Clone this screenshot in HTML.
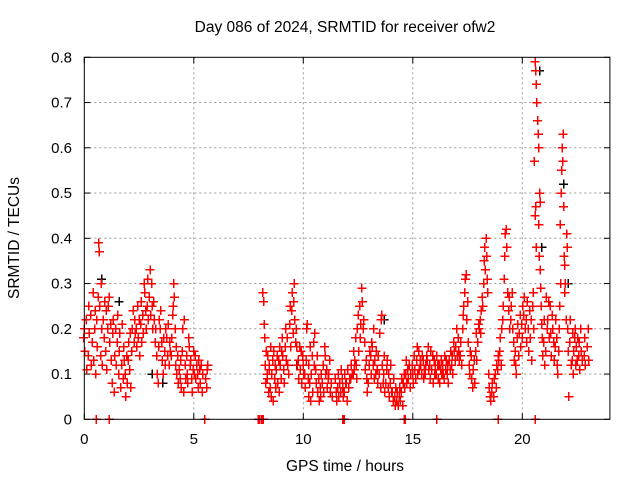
<!DOCTYPE html>
<html><head><meta charset="utf-8"><style>
body{margin:0;background:#fff;}
svg{display:block;font-family:"Liberation Sans",sans-serif;}
</style></head><body>
<svg id="chart" width="640" height="480" xmlns="http://www.w3.org/2000/svg">
<rect width="640" height="480" fill="#fff"/>
<text x="345" y="32" font-size="15.5" text-anchor="middle" fill="#000">Day 086 of 2024, SRMTID for receiver ofw2</text>
<text x="345" y="471" font-size="15.5" text-anchor="middle" fill="#000">GPS time / hours</text>
<text x="19" y="238" font-size="15.5" text-anchor="middle" fill="#000" transform="rotate(-90 19 238)">SRMTID / TECUs</text>
<g id="grid"></g><g id="ticks"></g><g id="marks" shape-rendering="crispEdges"></g>
<rect x="84.3" y="57.3" width="525.6" height="362" fill="none" stroke="#000" stroke-width="1"/>
</svg>
<script>
const xTicks=[0,5,10,15,20];
const yTicks=[0,0.1,0.2,0.3,0.4,0.5,0.6,0.7,0.8];
const yTickLabels=["0","0.1","0.2","0.3","0.4","0.5","0.6","0.7","0.8"];
const times=[0.0,0.1,0.2,0.3,0.4,0.5,0.6,0.7,0.8,0.9,1.0,1.1,1.2,1.3,1.4,1.5,1.6,1.7,1.8,1.9,2.0,2.1,2.2,2.3,2.4,2.5,2.6,2.7,2.8,2.9,3.0,3.1,3.2,3.3,3.4,3.5,3.6,3.7,3.8,3.9,4.0,4.1,4.2,4.3,4.4,4.5,4.6,4.7,4.8,4.9,5.0,5.1,5.2,5.3,5.4,5.6,
8.2,8.3,8.4,8.5,8.6,8.7,8.8,8.9,9.0,9.1,9.2,9.3,9.4,9.5,9.6,9.7,9.8,9.9,10.0,10.1,10.2,10.3,10.4,10.5,10.6,10.7,10.8,10.9,11.0,11.1,11.2,11.3,11.5,11.6,11.7,11.8,11.9,12.0,12.1,12.2,12.3,12.4,12.5,12.6,12.7,12.8,12.9,13.0,13.1,13.2,13.3,13.4,13.5,13.6,13.7,13.8,13.9,14.0,14.1,14.2,14.3,14.4,14.5,14.6,14.7,14.8,14.9,15.0,15.1,15.2,15.3,15.4,15.5,15.6,15.7,15.8,15.9,16.0,16.1,16.2,16.3,16.4,16.5,16.6,16.7,16.8,16.9,17.0,17.1,17.2,17.3,17.4,17.5,17.6,17.7,17.8,17.9,18.0,18.1,18.2,18.3,18.4,18.5,18.6,18.7,18.8,18.9,19.0,19.1,19.2,19.3,19.4,19.5,19.6,19.7,19.8,19.9,20.0,20.1,20.2,20.3,20.4,20.5,20.6,20.7,20.8,20.9,21.0,21.1,21.2,21.3,21.4,21.5,21.6,21.7,21.8,21.9,22.0,22.1,22.2,22.3,22.4,22.5,22.6,22.7,22.85,23.0];
const values=[[0.18,0.2,0.15],[0.22,0.11],[0.14,0.25,0.19],[0.23,0.12],[0.17,0.28,0.13],[0.2,0.24,0.1],[0.22,0.16,0.27],[0.39,0.37,0.25,0.14],[0.3,0.2,0.12],[0.22,0.18,0.26],[0.15,0.24,0.11],[0.2,0.25,0.27],[0.17,0.21,0.13],[0.08,0.19,0.22],[0.06,0.14,0.2],[0.12,0.17,0.23],[0.1,0.15,0.19],[0.07,0.12,0.21],[0.09,0.16,0.13],[0.1,0.05,0.14],[0.08,0.13,0.17],[0.11,0.19,0.07],[0.15,0.2,0.24],[0.17,0.22,0.19],[0.2,0.16,0.25],[0.18,0.22,0.14],[0.21,0.26,0.17],[0.23,0.19,0.3],[0.28,0.24,0.2],[0.25,0.31,0.22],[0.27,0.33,0.23],[0.3,0.25,0.2],[0.26,0.22,0.17],[0.2,0.14,0.1],[0.08,0.16,0.22],[0.2,0.24,0.17],[0.13,0.1,0.18],[0.15,0.12,0.2],[0.18,0.14,0.21],[0.12,0.17,0.15],[0.14,0.18,0.23],[0.25,0.3,0.27,0.2],[0.12,0.16,0.1],[0.14,0.08,0.11],[0.09,0.13,0.07],[0.15,0.2,0.06],[0.22,0.12,0.09],[0.14,0.1,0.08],[0.18,0.16,0.12],[0.13,0.09,0.06],[0.11,0.15,0.1],[0.14,0.09,0.12],[0.1,0.07,0.13],[0.11,0.08,0.12],[0.06,0.1],[0.09,0.07,0.11,0.12],
[0.28,0.26,0.21,0.18],[0.12,0.08,0.15,0.1],[0.09,0.14,0.06,0.11],[0.12,0.07,0.16,0.05],[0.1,0.13,0.04],[0.15,0.09,0.12,0.07],[0.11,0.14,0.08],[0.13,0.06,0.16],[0.12,0.09,0.15,0.18],[0.14,0.11,0.08],[0.16,0.2,0.13],[0.18,0.12,0.1],[0.21,0.25,0.16],[0.24,0.28,0.19],[0.26,0.3,0.22,0.17],[0.2,0.16,0.12],[0.13,0.09,0.16],[0.11,0.15,0.08],[0.14,0.12,0.1],[0.1,0.07,0.13],[0.2,0.21,0.09,0.05],[0.12,0.08,0.16,0.04],[0.1,0.14,0.06],[0.17,0.12,0.19],[0.11,0.08,0.14],[0.06,0.09,0.04],[0.07,0.05,0.1],[0.08,0.12,0.06],[0.16,0.14,0.1],[0.11,0.07,0.09],[0.1,0.13,0.06],[0.08,0.05],[0.09,0.06,0.04],[0.07,0.1,0.05],[0.08,0.06,0.11],[0.09,0.07,0.05],[0.06,0.1,0.08],[0.08,0.04,0.11],[0.07,0.09],[0.09,0.12,0.1],[0.1,0.15,0.11],[0.13,0.18,0.12,0.09],[0.2,0.23,0.15],[0.25,0.18,0.21],[0.29,0.26,0.2],[0.22,0.17,0.11],[0.13,0.09,0.06],[0.08,0.12,0.15],[0.14,0.1,0.17],[0.16,0.12,0.2,0.09],[0.13,0.1,0.15],[0.11,0.08,0.14],[0.1,0.19,0.07],[0.22,0.23,0.12,0.08],[0.1,0.14,0.06],[0.08,0.11,0.13],[0.07,0.1,0.05],[0.08,0.12,0.06],[0.06,0.04,0.09],[0.05,0.03,0.07],[0.04,0.06,0.03],[0.05,0.07,0.04],[0.06,0.09,0.03],[0.08,0.1,0.07],[0.1,0.13,0.08],[0.11,0.09,0.12],[0.07,0.1],[0.12,0.1,0.08],[0.14,0.11,0.09],[0.13,0.16,0.1],[0.15,0.11,0.13],[0.12,0.1,0.14],[0.13,0.09,0.11],[0.1,0.12,0.14],[0.13,0.16,0.11],[0.12,0.09,0.15],[0.11,0.14,0.08],[0.13,0.1,0.12],[0.1,0.14,0.12],[0.09,0.12,0.08],[0.11,0.13,0.1],[0.12,0.1,0.09],[0.14,0.11,0.13],[0.1,0.12,0.08],[0.13,0.11,0.15],[0.12,0.14,0.1],[0.17,0.15,0.13],[0.16,0.2,0.14],[0.18,0.15,0.13],[0.14,0.17,0.12],[0.2,0.23,0.25],[0.28,0.31,0.32],[0.22,0.26,0.17],[0.12,0.1,0.15],[0.14,0.09,0.07],[0.11,0.13,0.08],[0.15,0.19,0.13],[0.17,0.21,0.2],[0.22,0.19,0.24],[0.27,0.25,0.3],[0.35,0.38,0.33,0.4],[0.36,0.31,0.28],[0.1,0.07,0.05],[0.04,0.06,0.08],[0.05,0.09],[0.1,0.07,0.12],[0.11,0.14,0.13],[0.15,0.18,0.12],[0.2,0.22,0.25],[0.31,0.36,0.41],[0.42,0.38,0.28],[0.24,0.27,0.2],[0.22,0.25,0.28],[0.2,0.17,0.13],[0.15,0.12,0.1],[0.18,0.21,0.14],[0.19,0.23,0.16],[0.21,0.18,0.25],[0.23,0.27,0.2],[0.22,0.17,0.26],[0.2,0.15,0.24],[0.18,0.22,0.13],[0.25,0.28,0.2],[0.57,0.45,0.47,0.38],[0.79,0.77,0.74,0.7,0.66,0.63,0.6,0.5,0.48],[0.43,0.36,0.33,0.29],[0.25,0.21,0.18,0.14],[0.17,0.22,0.12],[0.15,0.27,0.2],[0.22,0.26,0.18],[0.25,0.19,0.14],[0.23,0.2,0.17],[0.13,0.16,0.22],[0.18,0.12,0.1],[0.15,0.2,0.25,0.3],[0.43,0.5,0.55,0.6,0.63],[0.57,0.47,0.36,0.28],[0.34,0.3,0.22,0.41,0.38],[0.2,0.15,0.05],[0.17,0.22,0.12],[0.13,0.19,0.1],[0.15,0.18,0.2,0.12],[0.16,0.13,0.18],[0.14,0.17,0.11],[0.2,0.15,0.13],[0.14,0.18,0.12],[0.16,0.2,0.13]];
const zeroTimes=[0.55,1.15,5.5,7.95,8.02,8.1,8.18,11.8,11.88,14.6,14.66,16.1,18.9,20.6];
const blackTimes=[0.7,1.5,3.0,3.5,9.6,13.6,20.7,20.8,21.8,22.0];
const blackValues=[0.31,0.26,0.1,0.08,0.12,0.22,0.77,0.38,0.52,0.3];

const X0=84.3,X1=609.9,Y0=419.3,Y1=57.3,XMAX=24,YMAX=0.8;
const xs=t=>X0+(X1-X0)*t/XMAX, ys=v=>Y0-(Y0-Y1)*v/YMAX;
const NS="http://www.w3.org/2000/svg";
const grid=document.getElementById('grid'),ticks=document.getElementById('ticks'),marks=document.getElementById('marks');
function mk(tag,attrs,parent){const e=document.createElementNS(NS,tag);for(const k in attrs)e.setAttribute(k,attrs[k]);parent.appendChild(e);return e;}
xTicks.forEach(t=>{
  const x=xs(t);
  if(t>0){const g=mk('line',{x1:x,x2:x,y1:Y0,y2:Y1,stroke:'#999','stroke-dasharray':'2,3'},grid);
  
  }
  mk('line',{x1:x,x2:x,y1:Y0,y2:Y0-6,stroke:'#000'},ticks);
  mk('line',{x1:x,x2:x,y1:Y1,y2:Y1+6,stroke:'#000'},ticks);
  const l=mk('text',{x:x,y:444,'font-size':15,'text-anchor':'middle',fill:'#000'},ticks);l.textContent=t;
  
  
});
yTicks.forEach((v,i)=>{
  const y=ys(v);
  if(v>0&&v<YMAX){const g=mk('line',{x1:X0,x2:X1,y1:y,y2:y,stroke:'#999','stroke-dasharray':'2,3'},grid);
  
  }
  mk('line',{x1:X0,x2:X0+6,y1:y,y2:y,stroke:'#000'},ticks);
  mk('line',{x1:X1,x2:X1-6,y1:y,y2:y,stroke:'#000'},ticks);
  const l=mk('text',{x:72,y:y+5,'font-size':15,'text-anchor':'end',fill:'#000'},ticks);l.textContent=yTickLabels[i];
  
  
});
function plus(x,y,c,name){
  const p=mk('path',{d:`M${x-4.5},${y}H${x+4.5}M${x},${y-4.5}V${y+4.5}`,stroke:c,'stroke-width':1.5,fill:'none'},marks);
  
  
}
blackTimes.forEach((t,i)=>plus(xs(t)+2,ys(blackValues[i]),'#000','black-point'));
times.forEach((t,i)=>{
  const g=values[i],n=g.length;
  g.forEach((v,k)=>plus(xs(t+(k-(n-1)/2)*0.03),ys(v),'#f00','srmtid-point'));
});
zeroTimes.forEach(t=>plus(xs(t),ys(0),'#f00','zero-point'));
</script>
</body></html>
